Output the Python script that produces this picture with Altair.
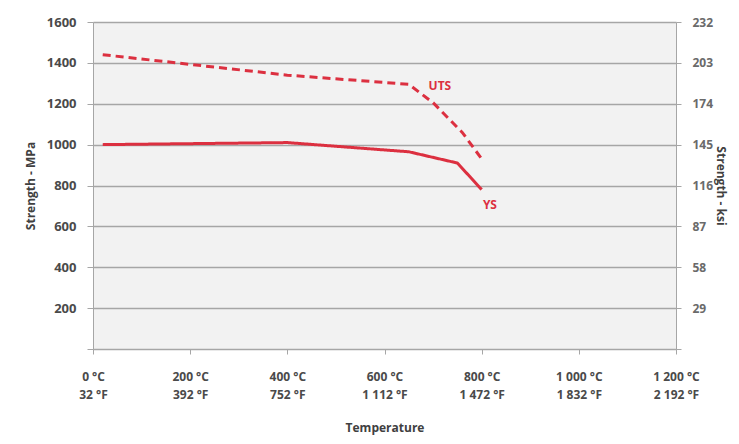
import altair as alt
import pandas as pd

# Data
uts_temp = [20, 400, 650, 700, 760, 800]
uts_mpa = [1440, 1340, 1295, 1205, 1060, 930]
ys_temp = [20, 400, 650, 750, 800]
ys_mpa = [1000, 1010, 965, 910, 780]

x_ticks = [0, 200, 400, 600, 800, 1000, 1200]
x_labels_c = ["0 °C", "200 °C", "400 °C", "600 °C", "800 °C", "1 000 °C", "1 200 °C"]
x_labels_f = ["32 °F", "392 °F", "752 °F", "1 112 °F", "1 472 °F", "1 832 °F", "2 192 °F"]
y_ticks = [0, 200, 400, 600, 800, 1000, 1200, 1400, 1600]
ksi_labels = ["", "29", "58", "87", "116", "145", "174", "203", "232"]

ann_text = ["UTS", "YS"]
ann_temp = [714, 817]
ann_mpa = [1287, 705]

RED = "#dc3040"
FONT = "Open Sans"
LBL = "#4a4a4a"
TTL = "#404040"
AX = "#a6a6a6"

df = pd.DataFrame(
    {"T": uts_temp + ys_temp,
     "MPa": uts_mpa + ys_mpa,
     "series": ["UTS"] * len(uts_temp) + ["YS"] * len(ys_temp)}
)
ann = pd.DataFrame({"text": ann_text, "T": ann_temp, "MPa": ann_mpa})

x_expr_c = "[" + ",".join(f"'{s}'" for s in x_labels_c) + "]"
x_expr_f = "[" + ",".join(f"'{s}'" for s in x_labels_f) + "]"
x_label_expr = f"[{x_expr_c}[round(datum.value/200)], {x_expr_f}[round(datum.value/200)]]"
ksi_expr = "[" + ",".join(f"'{s}'" for s in ksi_labels) + "][round(datum.value/200)]"

xscale = alt.Scale(domain=[0, 1200], nice=False, zero=False)
yscale = alt.Scale(domain=[0, 1600], nice=False)

x_enc = alt.X(
    "T:Q", scale=xscale,
    axis=alt.Axis(
        values=x_ticks, labelExpr=x_label_expr, title="Temperature",
        grid=False, domainColor=AX, tickColor=AX, tickSize=5,
        labelFlush=False, labelOverlap=False,
        labelPadding=17, labelLineHeight=18, labelColor=LBL, labelFontSize=12,
        labelFontWeight="bold",
        labelFont=FONT, titleFont=FONT, titleFontSize=12, titleColor=TTL,
        titleFontWeight="bold", titlePadding=22,
    ),
)

y_left = alt.Y(
    "MPa:Q", scale=yscale,
    axis=alt.Axis(
        values=y_ticks, labelExpr="datum.value == 0 ? '' : datum.label",
        format="d", title="Strength - MPa",
        gridColor=AX, gridWidth=1.5, domainColor=AX, tickColor=AX,
        tickSize=6, labelPadding=11, labelColor=LBL, labelFontSize=13,
        labelFontWeight="bold",
        labelFont=FONT, titleFont=FONT, titleFontSize=12, titleColor=TTL,
        titleFontWeight="bold", titlePadding=9,
    ),
)

lines = alt.Chart(df).mark_line(strokeWidth=3, color=RED).encode(
    x=x_enc,
    y=y_left,
    detail="series:N",
    strokeDash=alt.StrokeDash(
        "series:N",
        scale=alt.Scale(domain=["UTS", "YS"], range=[[8, 5], [1, 0]]),
        legend=None,
    ),
)

labels = alt.Chart(ann).mark_text(
    color=RED, fontWeight="bold", fontSize=12, font=FONT
).encode(
    x=x_enc,
    y=y_left,
    text="text:N",
)

right_axis = alt.Chart(df).mark_point(opacity=0).encode(
    x=x_enc,
    y=alt.Y(
        "MPa:Q", scale=yscale,
        axis=alt.Axis(
            orient="right", values=y_ticks, labelExpr=ksi_expr, title="Strength - ksi",
            grid=False, domainColor=AX, tickColor=AX, tickSize=5,
            labelPadding=11, labelColor="#6a6a6a", labelFontSize=12, labelFont=FONT,
            labelFontWeight="bold",
            titleFont=FONT, titleFontSize=12, titleColor=TTL, titleFontWeight="bold",
            titleAngle=90, titlePadding=1,
        ),
    ),
)

chart = (
    alt.layer(alt.layer(lines, labels), right_axis)
    .resolve_scale(y="independent")
    .properties(
        width=583, height=327,
        autosize=alt.AutoSizeParams(type="none"),
        padding={"left": 85, "top": 14, "right": 55, "bottom": 86},
        background="white",
    )
    .configure_view(fill="#f2f2f2", stroke=None)
)

chart.save("out.html", embed_options={"renderer": "svg", "actions": False})
